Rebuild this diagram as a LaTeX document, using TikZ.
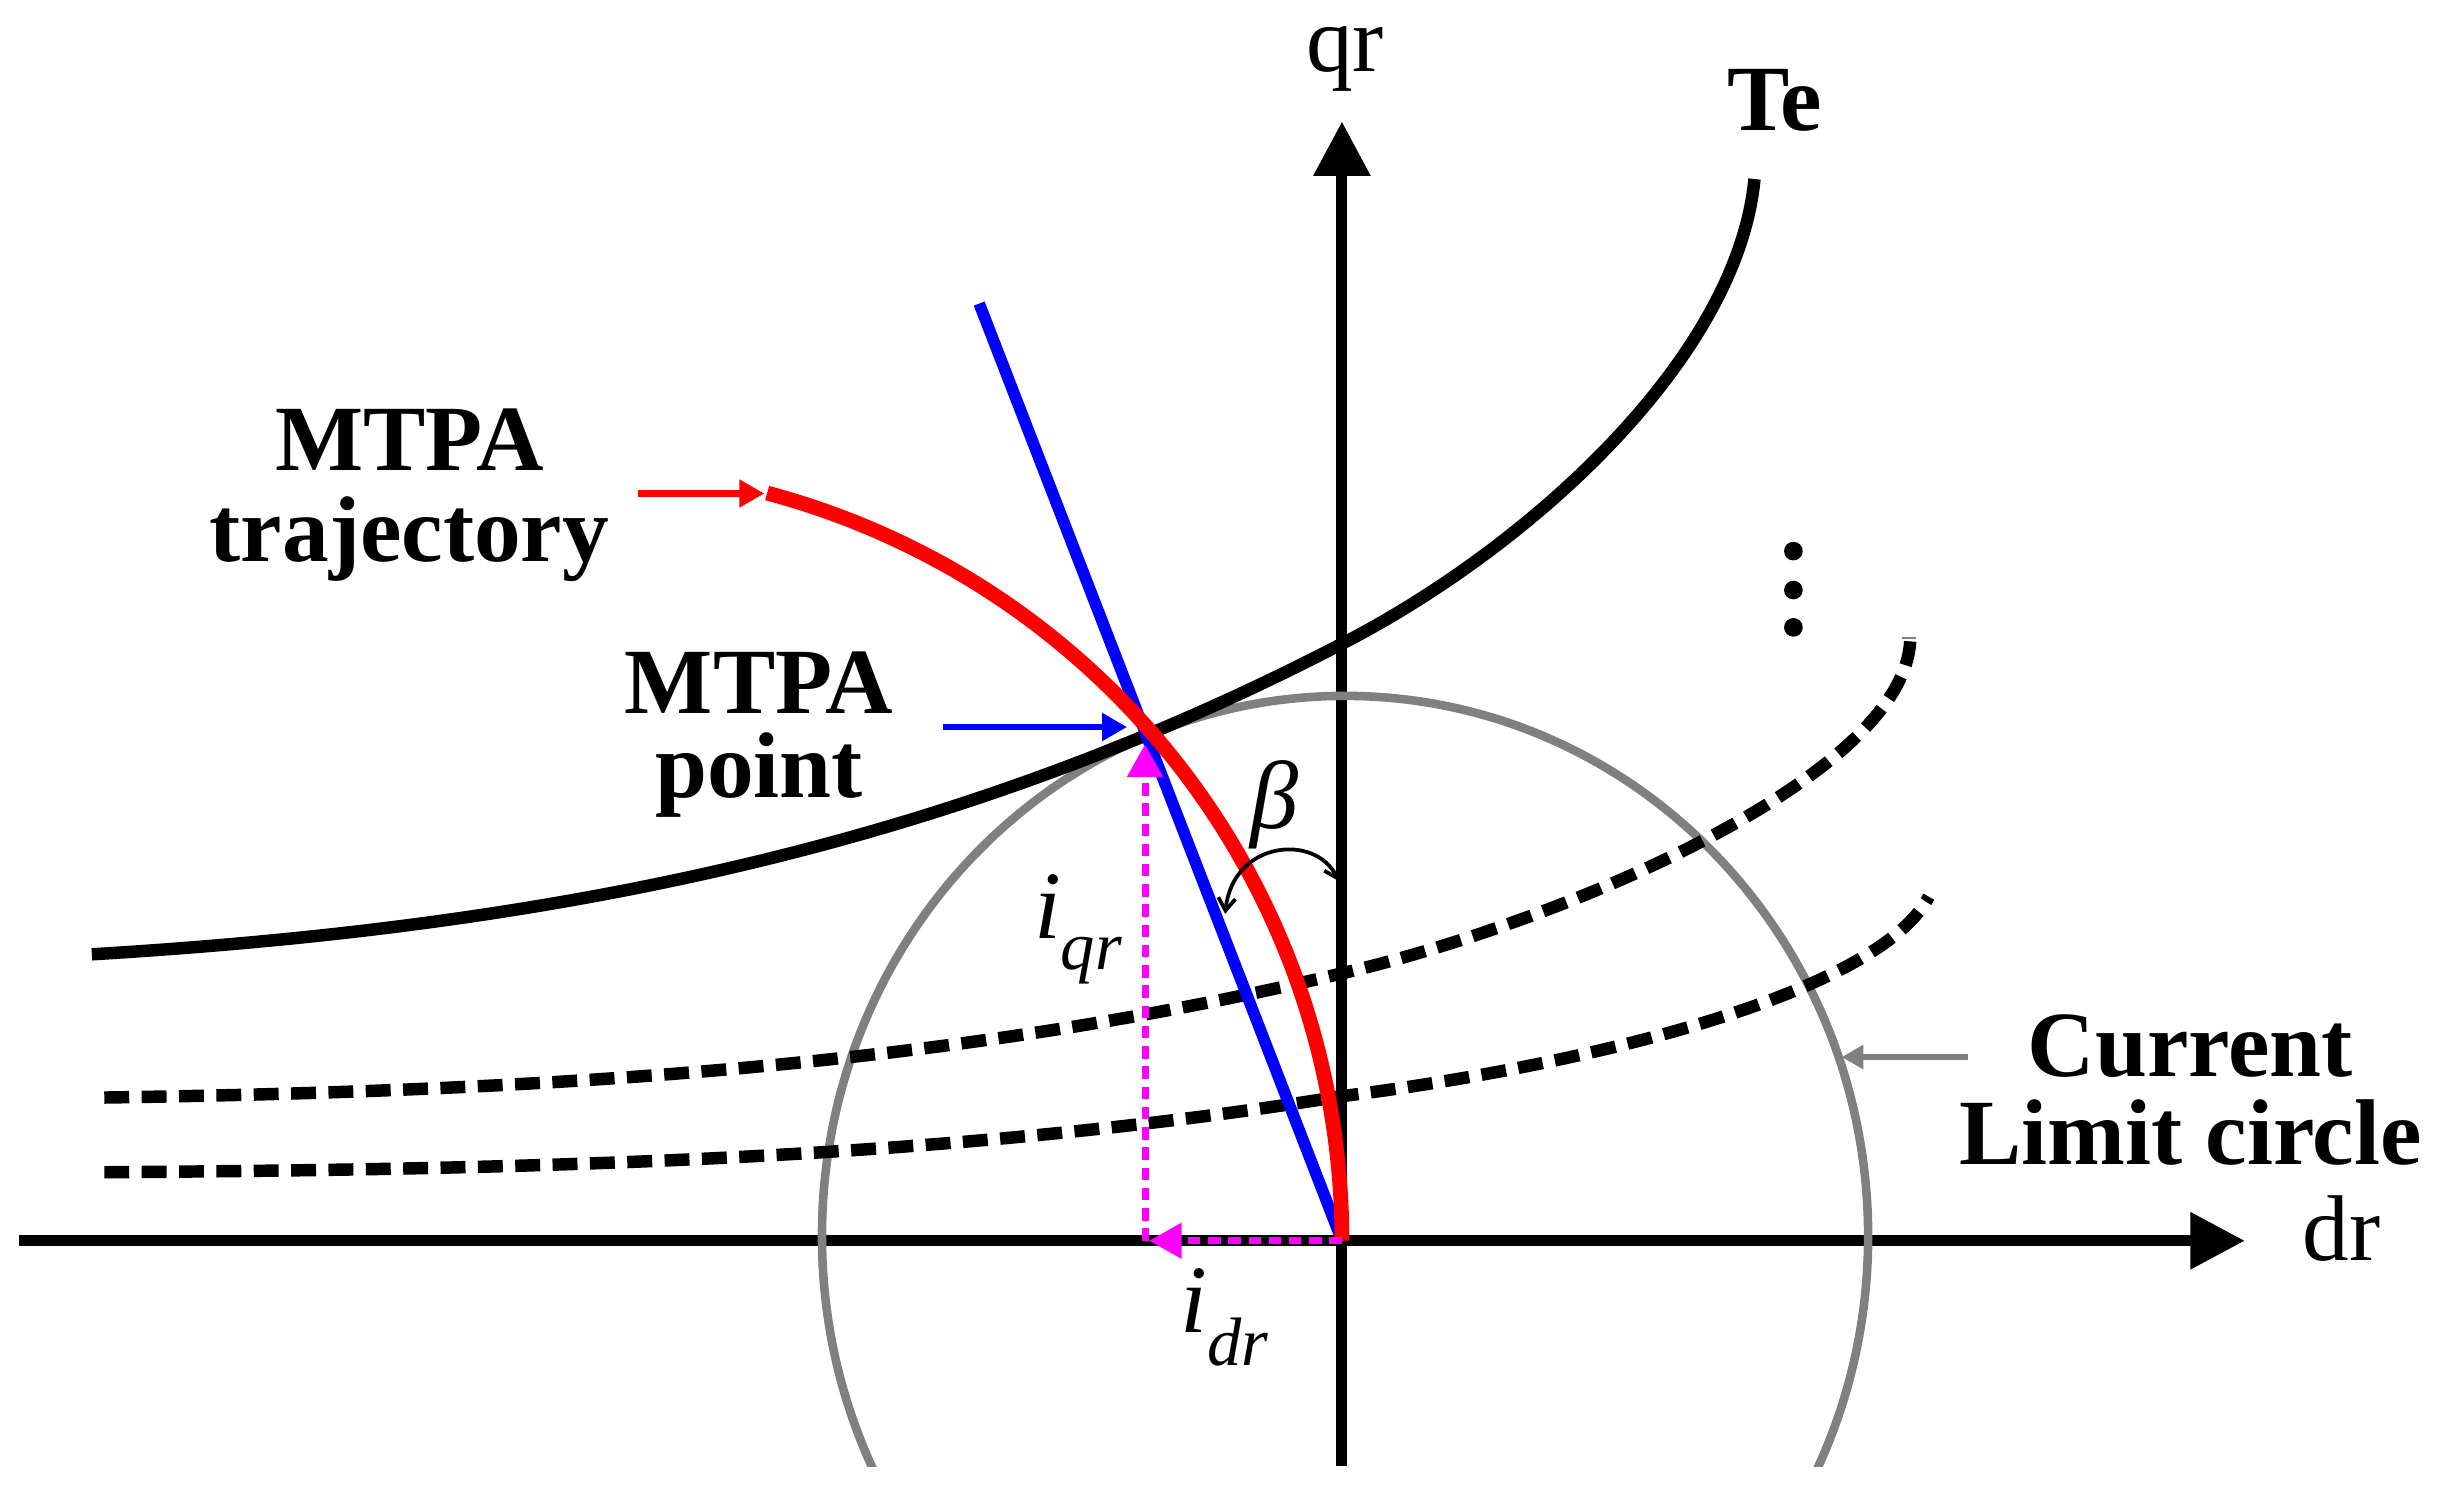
\documentclass[tikz,border=0pt]{standalone}
\usepackage{fontspec}
\setmainfont{Liberation Serif}
\usetikzlibrary{arrows.meta}
\definecolor{cgray}{HTML}{808080}
\definecolor{cmag}{HTML}{FF00FF}
\begin{document}
\begin{tikzpicture}[x=1pt,y=-1pt,
  lbl/.style={font=\fontsize{60}{60}\selectfont\bfseries, inner sep=0pt, anchor=base},
  lbltwo/.style={font=\fontsize{60}{#1}\selectfont\bfseries, inner sep=0pt, align=center, anchor=north},
  axlbl/.style={font=\fontsize{60}{60}\selectfont, inner sep=0pt, anchor=base},
  axisline/.style={line width=7pt, -{Triangle[length=35pt,width=35pt]}},
  tecurve/.style={line width=8pt},
  tedash/.style={line width=8pt, dash pattern=on 16pt off 8pt},
  magline/.style={cmag, line width=4.5pt, dash pattern=on 8pt off 5pt, -{Triangle[length=21pt,width=22pt]}},
  pointer/.style={line width=4pt, -{Triangle[length=16pt,width=17pt]}}
]
\useasboundingbox (0,0) rectangle (1568,970);
\fill[white] (0,0) rectangle (1568,970);

% coordinates
\coordinate (O) at (862,797);
\coordinate (dl) at (12,797);
\coordinate (drt) at (1442,797);
\coordinate (qb) at (862,942);
\coordinate (qt) at (862,78);

% axes
\draw[axisline] (dl) -- (drt);
\draw[axisline] (qb) -- (qt);

% current limit circle
\begin{scope}
\clip (0,0) rectangle (1568,942);
\draw[cgray, line width=5.5pt] (864,794) ellipse [x radius=336, y radius=347];
\end{scope}
\draw[cgray, line width=1.5pt] (1222,410) -- (1231,410);

% torque curves
\draw[tecurve] (59,613) .. controls (359,595) and (613,543) .. (863,413)
               .. controls (983,351) and (1116,230) .. (1127,115);
\draw[tedash] (67,705) .. controls (337,701) and (603,687) .. (863,625)
              .. controls (1003,592) and (1222,500) .. (1227,412);
\draw[tedash] (67,753) .. controls (337,751) and (603,746) .. (863,704)
              .. controls (1013,685) and (1205,640) .. (1239,576);

% dots
\fill (1152,354) circle[radius=6];
\fill (1152,379) circle[radius=6];
\fill (1152,403) circle[radius=6];

% blue line
\coordinate (bt) at (629,195);
\draw[blue, line width=7.5pt] (bt) -- (O);

% MTPA trajectory
\draw[red, line width=9.5pt] plot[domain=75.1:0, samples=80, smooth] ({365+497*cos(\x)},{797-497*sin(\x)});

% magenta components
\coordinate (mb) at (735.5,797);
\coordinate (mq) at (735.5,478);
\coordinate (md) at (738,797);
\draw[magline] (mb) -- (mq);
\draw[magline] (O) -- (md);

% pointer arrows
\coordinate (ra) at (410,317);
\coordinate (rs) at (491,317);
\draw[pointer, red] (ra) -- (rs);
\coordinate (ba) at (606,467);
\coordinate (bs) at (724,467);
\draw[pointer, blue] (ba) -- (bs);
\coordinate (ga) at (1264,679);
\coordinate (gs) at (1183,679);
\draw[cgray, line width=3.5pt, -{Triangle[length=14pt,width=15pt]}] (ga) -- (gs);

% beta arc
\coordinate (b1) at (787,587);
\coordinate (b2) at (860,566);
\draw[line width=2.4pt, {Straight Barb[length=8pt,width=11pt]}-{Straight Barb[length=8pt,width=11pt]}] (b1) .. controls (792,540) and (845,535) .. (b2);

% labels
\node[lbltwo=58] (traj) at (263,262.7) {MTPA\\trajectory};
\node[lbltwo=54] (pt) at (487.5,418.7) {MTPA\\point};
\node[lbltwo=57] (cur) at (1407,651.4) {Current\\Limit circle};
\node[lbl] (te) at (1140,84) {Te};
\node[axlbl] (qr) at (864,46) {qr};
\node[axlbl] (drl) at (1504,810) {dr};
\node[inner sep=0pt, anchor=base west] (iq) at (664,603) {\fontsize{62}{62}\selectfont\itshape i\raisebox{-20pt}{\fontsize{44}{44}\selectfont qr}};
\node[inner sep=0pt, anchor=base west] (id) at (758,856) {\fontsize{62}{62}\selectfont\itshape i\raisebox{-21pt}{\fontsize{44}{44}\selectfont dr}};
\node[inner sep=0pt, anchor=base] (beta) at (819,532) {\fontsize{62}{62}\selectfont\itshape β};
\end{tikzpicture}
\end{document}
